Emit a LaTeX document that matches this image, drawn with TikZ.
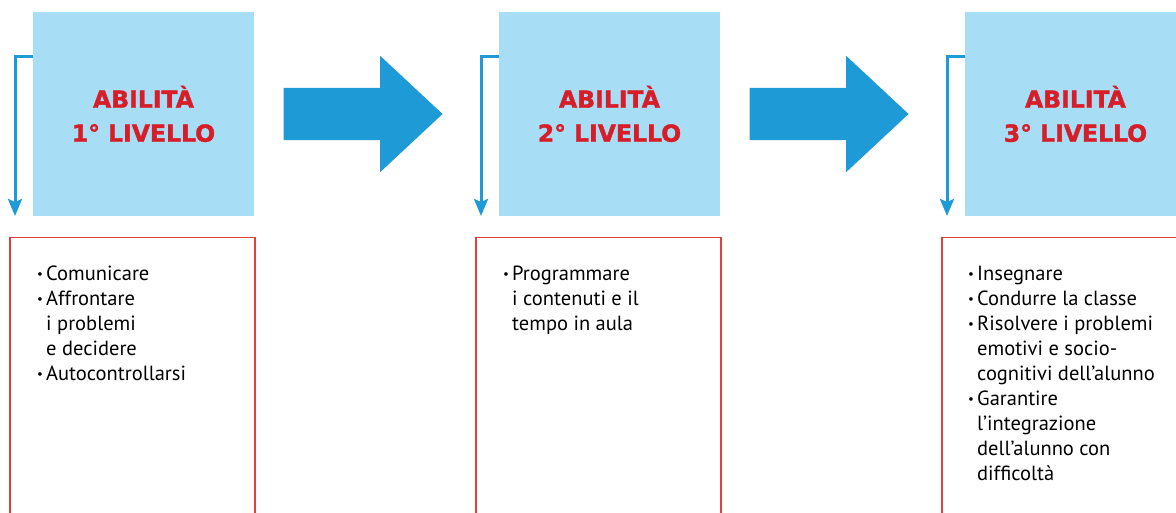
\documentclass[tikz,border=0pt]{standalone}
\usepackage{fontspec}
\setmainfont{PT Sans}
\newfontfamily\titolofont{DejaVu Sans Bold}[FakeBold=1.6]
\usetikzlibrary{arrows.meta,shapes.arrows}

\definecolor{celeste}{HTML}{A8DEF5}
\definecolor{azzurro}{HTML}{1E9BD7}
\definecolor{rosso}{HTML}{D71E28}
\definecolor{bordo}{HTML}{E0403A}

% small bullet and the indent of wrapped lines
\newcommand{\voce}{\makebox[9pt][l]{\raisebox{1.5pt}{\fontsize{13}{13}\selectfont•}}}
\newcommand{\rientro}{\hspace*{9pt}}

\tikzset{
    abilita/.style={fill=celeste, minimum width=221pt, minimum height=204pt, inner sep=0pt,
        text=rosso, align=center, font=\titolofont\fontsize{23.5}{34}\selectfont},
    elenco/.style={draw=bordo, line width=1.5pt, minimum width=245pt, minimum height=300pt,
        inner sep=0pt, anchor=north west},
    voci/.style={anchor=north west, align=left, inner sep=0pt, font=\fontsize{20.5}{25}\selectfont},
    passo/.style={single arrow, fill=azzurro, minimum height=159pt, inner xsep=0pt, inner ysep=26pt,
        single arrow head extend=32pt, single arrow tip angle=86},
    freccina/.style={azzurro, line width=3pt, -{Stealth[length=17pt,width=14pt,inset=3pt]}}
}

\begin{document}
\begin{tikzpicture}[x=1pt,y=-1pt]
    \useasboundingbox (0,0) rectangle (1176,513);
    \clip (0,0) rectangle (1176,513);

    \foreach \n [count=\i starting from 0] in {1,2,3}{% columns
        \node[abilita] (a\n) at (143.5+466*\i,114) {ABILITÀ\\\n° LIVELLO};
        \node[elenco] (e\n) at (9+466*\i,237) {};
        \draw[freccina] ([yshift=-45pt]a\n.north west) -| ([xshift=6pt,yshift=21pt]e\n.north west);
    }

    \node[passo] (p1) at (349,114) {};
    \node[passo] (p2) at (815,114) {};

    \node[voci] (t1) at ([xshift=28pt,yshift=-28.5pt]e1.north west) {\voce Comunicare\\
        \voce Affrontare\\ \rientro i problemi\\ \rientro e decidere\\ \voce Autocontrollarsi};
    \node[voci] (t2) at ([xshift=28pt,yshift=-28.5pt]e2.north west) {\voce Programmare\\
        \rientro i contenuti e il\\ \rientro tempo in aula};
    \node[voci] (t3) at ([xshift=27pt,yshift=-28.5pt]e3.north west) {\voce Insegnare\\
        \voce Condurre la classe\\ \voce Risolvere i problemi\\ \rientro emotivi e socio-\\
        \rientro cognitivi dell’alunno\\ \voce Garantire\\ \rientro l’integrazione\\
        \rientro dell’alunno con\\ \rientro difficoltà};
\end{tikzpicture}
\end{document}
